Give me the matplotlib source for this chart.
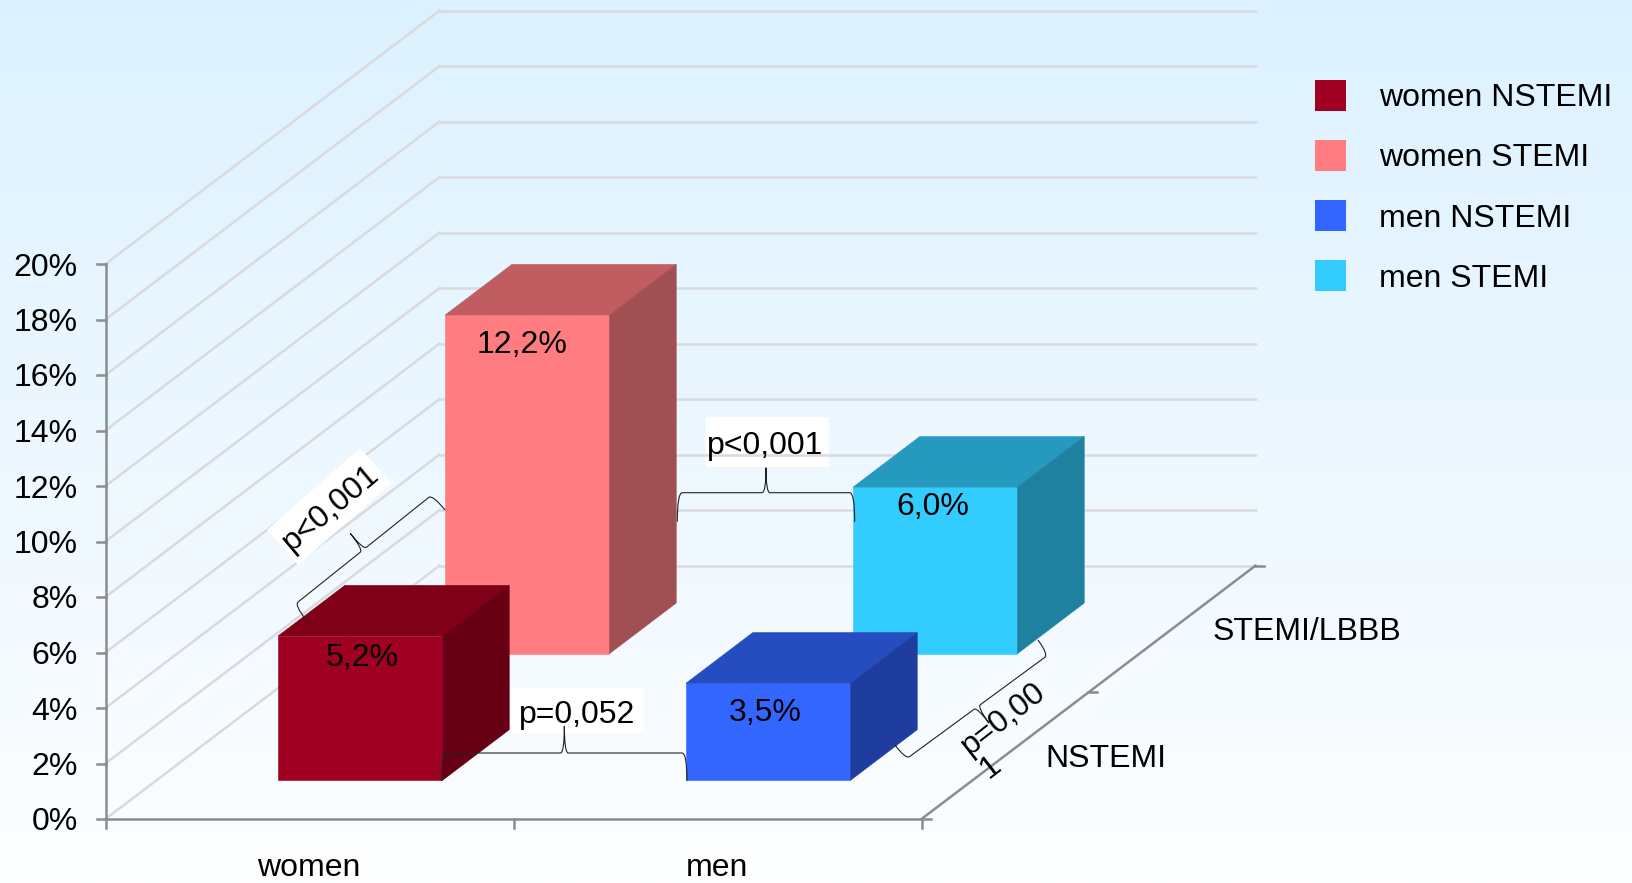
import numpy as np
import matplotlib
matplotlib.use('Agg')
import matplotlib.pyplot as plt
from matplotlib.patches import Polygon, Rectangle, PathPatch
from matplotlib.path import Path
from matplotlib.transforms import Affine2D

plt.rcParams['font.family'] = ['Liberation Sans', 'DejaVu Sans']

# data
groups = ['women', 'men']
rows = ['NSTEMI', 'STEMI/LBBB']
women_nstemi = 5.2
women_stemi = 12.2
men_nstemi = 3.5
men_stemi = 6.0
y_ticks = [0, 2, 4, 6, 8, 10, 12, 14, 16, 18, 20]
legend_labels = ['women NSTEMI', 'women STEMI', 'men NSTEMI', 'men STEMI']

W, H = 1632, 883
FS = 23
AXIS = '#8c8c8c'
GRID = '#dadadd'

# oblique projection: one unit of depth moves this far in x (groups) and y (percent)
DEPTH_X = 0.8186
DEPTH_Y = 9.13


def proj(x, d, v):
    return x + d * DEPTH_X, v + d * DEPTH_Y


fig = plt.figure(figsize=(W / 100, H / 100), dpi=100)

# background gradient
bg = fig.add_axes([0, 0, 1, 1], zorder=-1)
top_col = np.array([220, 241, 255]) / 255
bot_col = np.array([253, 254, 255]) / 255
t = np.linspace(0, 1, 400)[:, None, None]
bg.imshow(top_col[None, None, :] * (1 - t) + bot_col[None, None, :] * t, aspect='auto')
bg.axis('off')

ax = fig.add_axes([0, 0, 1, 1])
ax.patch.set_alpha(0)
ax.set_xlim(-105.5 / 408, (W - 105.5) / 408)
ax.set_ylim((819 - H) / 27.75, 819 / 27.75)
ax.axis('off')

# image-style pixel coordinates for the annotations
pix = Affine2D().scale(1, -1).translate(0, H)

# walls
for v in y_ticks:
    x0, y0 = proj(0, 0, v)
    x1, y1 = proj(0, 1, v)
    x2, y2 = proj(2, 1, v)
    ax.plot([x0, x1], [y0, y1], color=GRID, lw=1.8, zorder=1)
    ax.plot([x1, x2 + 2 / 408], [y1, y2], color=GRID, lw=1.8, zorder=2.5, solid_capstyle='butt')
x0, y0 = proj(0, 0, 0)
x1, y1 = proj(2, 0, 0)
x2, y2 = proj(2, 1, 0)
ax.plot([x1, x2], [y1, y2], color=AXIS, lw=1.8, zorder=2.6)
ax.plot([x0, x1], [y0, y1], color=AXIS, lw=1.8, zorder=2.6)
ax.plot([0, 0], [0, 20], color=AXIS, lw=1.8, zorder=2.6)

# axis ticks (9 px long)
tick_x = 9 / 408
tick_y = 9 / 27.75
for v in y_ticks:
    ax.plot([-tick_x, 0], [v, v], color=AXIS, lw=1.8, zorder=2.6)
    ax.annotate(f'{v}%', (0, v), xytext=(-28, -11.5), textcoords='offset pixels',
                ha='right', va='baseline', fontsize=FS)
for g in range(len(groups) + 1):
    ax.plot([g, g], [-tick_y, 0], color=AXIS, lw=1.8, zorder=2.6)
for d in [0, 0.5, 1]:
    xa, ya = proj(2, d, 0)
    ax.plot([xa, xa + tick_x], [ya, ya], color=AXIS, lw=1.8, zorder=2.6)

ax.text(309, 876, groups[0], transform=pix, ha='center', va='baseline', fontsize=FS)
ax.text(717, 876, groups[1], transform=pix, ha='center', va='baseline', fontsize=FS)
ax.text(1045.5, 767.3, rows[0], transform=pix, ha='left', va='baseline', fontsize=FS)
ax.text(1213, 640, rows[1], transform=pix, ha='left', va='baseline', fontsize=FS)


def bar3d(group, row, value, front, top, side, label_dx, label_dy):
    # one box: about 0.3-0.7 of the group width and of the row depth
    xa, xb = group + 0.298, group + 0.701
    da, db = (row + 0.305) / 2, (row + 0.705) / 2
    corners = [
        ([(xa, da, 0), (xb, da, 0), (xb, da, value), (xa, da, value)], front),
        ([(xa, da, value), (xb, da, value), (xb, db, value), (xa, db, value)], top),
        ([(xb, da, 0), (xb, db, 0), (xb, db, value), (xb, da, value)], side),
    ]
    for pts, col in corners:
        ax.add_patch(Polygon([proj(*p) for p in pts], closed=True, facecolor=col,
                             edgecolor=col, lw=0.4, zorder=3 + (1 - row)))
    cx, cy = proj(group + 0.5, da, value)
    ax.annotate(f'{value:.1f}%'.replace('.', ','), (cx, cy), xytext=(label_dx, -label_dy),
                textcoords='offset pixels', ha='center', va='baseline', fontsize=FS, zorder=6)


bar3d(0, 1, women_stemi, '#ff7c80', '#bf5d60', '#a04f52', -5, 38)
bar3d(1, 1, men_stemi, '#33ccff', '#2699bf', '#2080a0', -3, 27.5)
bar3d(0, 0, women_nstemi, '#a00021', '#800018', '#680015', 2, 30)
bar3d(1, 0, men_nstemi, '#3366ff', '#264dbf', '#1f3d9f', -3, 37.5)


def brace(p0, p1, h, peak):
    # curly bracket from p0 to p1, opening away from the left-hand normal of p0->p1
    p0 = np.array(p0, float)
    p1 = np.array(p1, float)
    L = np.hypot(*(p1 - p0))
    u = (p1 - p0) / L
    n = np.array([u[1], -u[0]])
    c = 5
    local = [(0, 0), (0, h), (c, h), (L / 2 - 4, h), (L / 2, h), (L / 2, h + peak),
             (L / 2, h), (L / 2 + 4, h), (L - c, h), (L, h), (L, 0)]
    codes = [Path.MOVETO, Path.CURVE3, Path.CURVE3, Path.LINETO, Path.CURVE3, Path.CURVE3,
             Path.CURVE3, Path.CURVE3, Path.LINETO, Path.CURVE3, Path.CURVE3]
    verts = [p0 + a * u + b * n for a, b in local]
    ax.add_patch(PathPatch(Path(verts, codes), transform=pix, facecolor='none',
                           edgecolor='#222222', lw=0.8, zorder=5))


# white label backgrounds, then the significance brackets
ax.add_patch(Rectangle((508, 688), 136, 45, transform=pix, facecolor='white', edgecolor='none', zorder=2))
ax.add_patch(Rectangle((706, 417), 123, 50, transform=pix, facecolor='white', edgecolor='none', zorder=2))
ax.add_patch(Polygon([(360, 448), (392, 483), (298, 565), (267, 530)], transform=pix,
                     facecolor='white', edgecolor='none', zorder=2))

brace((441.7, 781), (687, 781), 28, 27)
brace((677.3, 521.7), (854.7, 521.7), 29, 25)
brace((306.7, 620.7), (445, 510), 20, 21)
brace((1038, 640), (895, 745), 18, 20)

ax.text(576.7, 722.7, 'p=0,052', transform=pix, ha='center', va='baseline', fontsize=FS, zorder=6)
ax.text(765.5, 454, 'p<0,001', transform=pix, ha='center', va='baseline', fontsize=FS, zorder=6)
ax.text(331, 508, 'p<0,001', transform=pix, ha='center', va='center', rotation=40,
        rotation_mode='anchor', fontsize=FS, zorder=6)
ax.text(1013, 731, 'p=0,00\n1', transform=pix, ha='center', va='center', multialignment='left',
        rotation=38, rotation_mode='anchor', fontsize=FS, zorder=6, linespacing=1.0)

# legend
legend_cols = ['#a00021', '#ff7c80', '#3366ff', '#33ccff']
for i, (lab, col) in enumerate(zip(legend_labels, legend_cols)):
    ax.add_patch(Rectangle((1315, 80 + 60 * i), 31, 31, transform=pix, facecolor=col, edgecolor='none'))
    ax.text(1379, 106 + 60.4 * i, lab, transform=pix, ha='left', va='baseline', fontsize=FS)

fig.savefig('out.png', dpi=100)
